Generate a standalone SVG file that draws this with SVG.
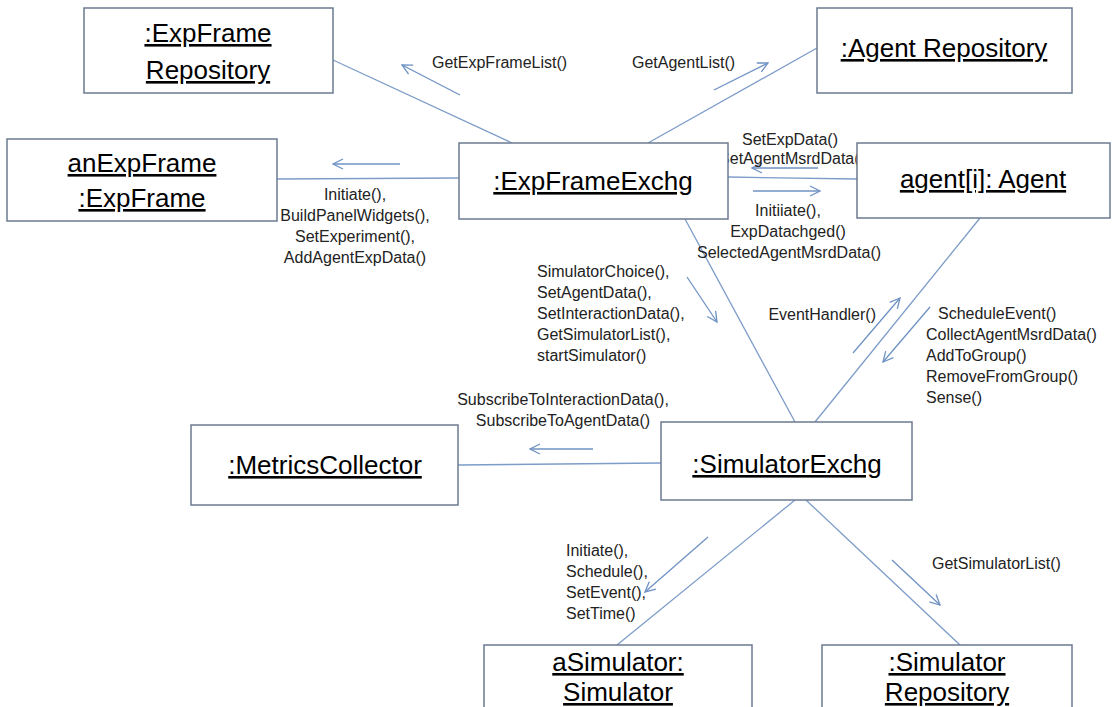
<svg xmlns="http://www.w3.org/2000/svg" width="1119" height="707" viewBox="0 0 1119 707">
<style>
.box{fill:#fff;stroke:#6b7a90;stroke-width:1.5}
.bt{font-family:"Liberation Sans",Arial,sans-serif;font-size:26px;fill:#000;text-anchor:middle;text-decoration:underline}
.lb{font-family:"Liberation Sans",Arial,sans-serif;font-size:16px;fill:#222}
.c{stroke:#7d9cc8;stroke-width:1.3;fill:none}
.a{stroke:#6f92c4;stroke-width:1.3;fill:none;marker-end:url(#ah)}
</style>
<defs>
<marker id="ah" viewBox="0 0 12 12" refX="11" refY="6" markerWidth="12" markerHeight="12" markerUnits="userSpaceOnUse" orient="auto">
<path d="M1,1 L11,6 L1,11" fill="none" stroke="#6f92c4" stroke-width="1.3"/>
</marker>
</defs>
<rect width="1119" height="707" fill="#fff"/>
<g id="connectors">
<line class="c" x1="333" y1="60" x2="512" y2="143"/>
<line class="c" x1="817" y1="48" x2="648" y2="143"/>
<line class="c" x1="277" y1="179" x2="459" y2="178"/>
<line class="c" x1="728" y1="177" x2="857" y2="179"/>
<line class="c" x1="685" y1="219" x2="795" y2="422"/>
<line class="c" x1="980" y1="218" x2="815" y2="422"/>
<line class="c" x1="458" y1="465" x2="661" y2="463"/>
<line class="c" x1="795" y1="500" x2="617" y2="645"/>
<line class="c" x1="806" y1="500" x2="960" y2="645"/>
<line class="a" x1="460" y1="95" x2="402" y2="65"/>
<line class="a" x1="714" y1="90" x2="768" y2="63"/>
<line class="a" x1="400" y1="164" x2="333" y2="164"/>
<line class="a" x1="818" y1="168" x2="752" y2="168"/>
<line class="a" x1="753" y1="191" x2="820" y2="191"/>
<line class="a" x1="687" y1="277" x2="717" y2="322"/>
<line class="a" x1="853" y1="353" x2="900" y2="298"/>
<line class="a" x1="930" y1="307" x2="883" y2="362"/>
<line class="a" x1="593" y1="449" x2="530" y2="449"/>
<line class="a" x1="708" y1="537" x2="645" y2="592"/>
<line class="a" x1="892" y1="560" x2="940" y2="605"/>
<text class="lb" x="432" y="68">GetExpFrameList()</text>
<text class="lb" x="632" y="68">GetAgentList()</text>
<g text-anchor="middle">
<text class="lb" x="355" y="200">Initiate(),</text>
<text class="lb" x="355" y="221">BuildPanelWidgets(),</text>
<text class="lb" x="355" y="242">SetExperiment(),</text>
<text class="lb" x="355" y="263">AddAgentExpData()</text>
<text class="lb" x="790" y="145">SetExpData()</text>
<text class="lb" x="792" y="164">SetAgentMsrdData()</text>
<text class="lb" x="788" y="216">Initiiate(),</text>
<text class="lb" x="788" y="237">ExpDatachged()</text>
<text class="lb" x="789" y="258">SelectedAgentMsrdData()</text>
<text class="lb" x="563" y="405">SubscribeToInteractionData(),</text>
<text class="lb" x="563" y="426">SubscribeToAgentData()</text>
</g>
<text class="lb" x="537" y="277">SimulatorChoice(),</text>
<text class="lb" x="537" y="298">SetAgentData(),</text>
<text class="lb" x="537" y="319">SetInteractionData(),</text>
<text class="lb" x="537" y="340">GetSimulatorList(),</text>
<text class="lb" x="537" y="361">startSimulator()</text>
<text class="lb" x="876" y="320" text-anchor="end">EventHandler()</text>
<text class="lb" x="938" y="319">ScheduleEvent()</text>
<text class="lb" x="926" y="340">CollectAgentMsrdData()</text>
<text class="lb" x="926" y="361">AddToGroup()</text>
<text class="lb" x="926" y="382">RemoveFromGroup()</text>
<text class="lb" x="926" y="403">Sense()</text>
<text class="lb" x="566" y="556">Initiate(),</text>
<text class="lb" x="566" y="577">Schedule(),</text>
<text class="lb" x="566" y="598">SetEvent(),</text>
<text class="lb" x="566" y="619">SetTime()</text>
<text class="lb" x="932" y="569">GetSimulatorList()</text>
</g>
<g id="expFrameRepository">
<rect class="box" x="84" y="8" width="249" height="85"/>
<text class="bt" x="208" y="42">:ExpFrame</text>
<text class="bt" x="208" y="79">Repository</text>
</g>
<g id="agentRepository">
<rect class="box" x="817" y="8" width="255" height="85"/>
<text class="bt" x="944" y="57">:Agent Repository</text>
</g>
<g id="anExpFrame">
<rect class="box" x="7" y="139" width="270" height="82"/>
<text class="bt" x="142" y="172">anExpFrame</text>
<text class="bt" x="142" y="207">:ExpFrame</text>
</g>
<g id="expFrameExchg">
<rect class="box" x="459" y="143" width="269" height="76"/>
<text class="bt" x="593" y="190">:ExpFrameExchg</text>
</g>
<g id="agent">
<rect class="box" x="857" y="143" width="253" height="75"/>
<text class="bt" x="983" y="188">agent[i]: Agent</text>
</g>
<g id="metricsCollector">
<rect class="box" x="191" y="425" width="267" height="80"/>
<text class="bt" x="325" y="474">:MetricsCollector</text>
</g>
<g id="simulatorExchg">
<rect class="box" x="661" y="422" width="251" height="78"/>
<text class="bt" x="787" y="473">:SimulatorExchg</text>
</g>
<g id="aSimulator">
<rect class="box" x="484" y="645" width="268" height="80"/>
<text class="bt" x="618" y="671">aSimulator:</text>
<text class="bt" x="618" y="701">Simulator</text>
</g>
<g id="simulatorRepository">
<rect class="box" x="822" y="645" width="250" height="80"/>
<text class="bt" x="947" y="671">:Simulator</text>
<text class="bt" x="947" y="701">Repository</text>
</g>
</svg>
